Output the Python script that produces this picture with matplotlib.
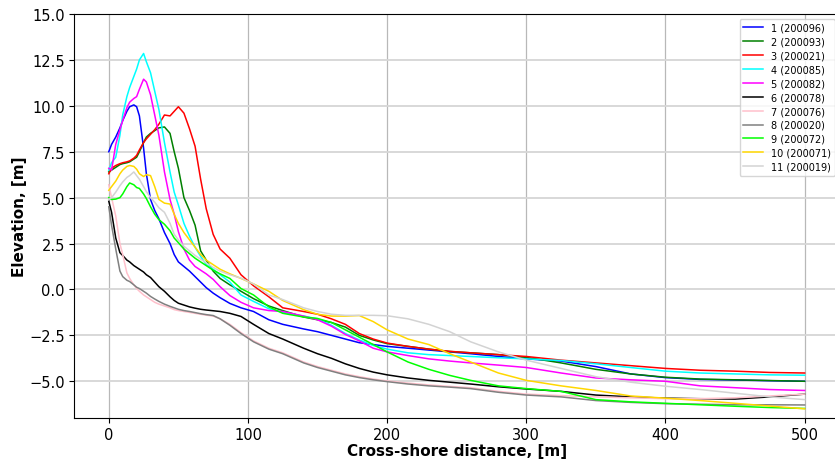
import numpy as np
import matplotlib
matplotlib.use("Agg")
from matplotlib import pyplot as plt

# distancia ao longo do perfil [m]
dist = [0, 2, 5, 8, 10, 13, 15, 18, 20, 22, 25, 27, 30, 33, 36, 40, 44, 47, 50, 54,
        58, 62, 66, 70, 75, 80, 87, 95, 104, 115, 125, 140, 150, 160, 170, 180, 190,
        200, 215, 230, 245, 260, 280, 300, 325, 350, 375, 400, 425, 450, 475, 500]

# perfis de elevacao [m]
p1 = [7.5, 7.9, 8.3, 8.8, 9.2, 9.7, 9.95, 10.05, 9.95, 9.45, 7.7, 6.3, 4.9, 4.3, 3.85, 3.1,
      2.5, 1.9, 1.5, 1.25, 1.0, 0.7, 0.4, 0.1, -0.2, -0.45, -0.76, -1.0, -1.2, -1.65, -1.9,
      -2.15, -2.3, -2.5, -2.7, -2.9, -3.0, -3.1, -3.2, -3.3, -3.4, -3.5, -3.65, -3.78, -3.9,
      -4.2, -4.6, -4.8, -4.9, -4.93, -4.97, -5.0]
p2 = [6.4, 6.5, 6.65, 6.8, 6.85, 6.9, 6.95, 7.1, 7.2, 7.5, 8.0, 8.3, 8.5, 8.65, 8.8, 8.85,
      8.5, 7.5, 6.6, 5.0, 4.3, 3.5, 2.1, 1.6, 1.0, 0.6, 0.25, -0.1, -0.5, -0.9, -1.15, -1.5,
      -1.65, -1.8, -2.05, -2.5, -2.75, -2.95, -3.1, -3.25, -3.38, -3.45, -3.55, -3.7, -4.0,
      -4.35, -4.6, -4.78, -4.88, -4.92, -4.96, -5.0]
p3 = [6.3, 6.6, 6.75, 6.85, 6.9, 6.95, 7.0, 7.15, 7.3, 7.6, 8.0, 8.2, 8.45, 8.7, 9.0, 9.5,
      9.45, 9.7, 9.95, 9.6, 8.75, 7.8, 6.0, 4.4, 3.0, 2.2, 1.7, 0.8, 0.2, -0.4, -1.0, -1.2,
      -1.35, -1.6, -1.9, -2.4, -2.7, -2.92, -3.1, -3.25, -3.37, -3.45, -3.55, -3.65, -3.85,
      -4.0, -4.15, -4.3, -4.4, -4.45, -4.52, -4.55]
p4 = [6.5, 6.9, 7.2, 8.4, 9.5, 10.5, 11.0, 11.6, 12.0, 12.5, 12.85, 12.4, 11.8, 10.8, 9.8,
      8.0, 6.4, 5.3, 4.6, 3.6, 2.9, 2.3, 1.8, 1.35, 1.1, 0.8, 0.4, -0.3, -0.65, -1.05, -1.25,
      -1.45, -1.6, -1.95, -2.4, -2.75, -3.05, -3.25, -3.45, -3.55, -3.6, -3.65, -3.72, -3.78,
      -3.87, -4.05, -4.25, -4.45, -4.55, -4.6, -4.65, -4.67]
p5 = [6.6, 6.5, 7.9, 8.7, 9.2, 9.9, 10.2, 10.4, 10.5, 10.9, 11.45, 11.3, 10.6, 9.5, 8.4, 6.4,
      4.9, 4.1, 3.15, 2.2, 1.6, 1.25, 1.05, 0.85, 0.55, 0.15, -0.33, -0.7, -1.0, -1.15, -1.2,
      -1.45, -1.65, -2.0, -2.45, -2.8, -3.2, -3.4, -3.6, -3.78, -3.9, -4.0, -4.12, -4.25,
      -4.55, -4.82, -4.92, -5.0, -5.25, -5.35, -5.45, -5.5]
p6 = [4.8, 4.2, 2.8, 2.0, 1.85, 1.6, 1.5, 1.3, 1.2, 1.1, 0.95, 0.8, 0.65, 0.4, 0.15, -0.1,
      -0.4, -0.6, -0.75, -0.85, -0.95, -1.02, -1.08, -1.12, -1.16, -1.2, -1.3, -1.47, -1.9,
      -2.4, -2.7, -3.2, -3.5, -3.75, -4.05, -4.3, -4.5, -4.65, -4.82, -4.95, -5.05, -5.15,
      -5.3, -5.42, -5.55, -5.75, -5.85, -5.92, -5.95, -5.97, -5.85, -5.7]
p7 = [5.7, 5.0, 4.0, 2.5, 1.9, 0.9, 0.6, 0.25, 0.05, -0.1, -0.3, -0.4, -0.55, -0.7, -0.8,
      -0.9, -1.0, -1.1, -1.15, -1.2, -1.25, -1.3, -1.35, -1.4, -1.45, -1.6, -1.9, -2.35, -2.8,
      -3.2, -3.45, -3.95, -4.2, -4.4, -4.6, -4.75, -4.88, -4.98, -5.1, -5.2, -5.28, -5.35,
      -5.55, -5.7, -5.78, -5.85, -5.9, -5.95, -5.95, -5.9, -5.8, -5.7]
p8 = [4.5, 3.5, 2.2, 1.0, 0.7, 0.5, 0.43, 0.25, 0.12, 0.05, -0.1, -0.2, -0.38, -0.52, -0.65,
      -0.8, -0.92, -1.0, -1.08, -1.15, -1.2, -1.26, -1.32, -1.37, -1.42, -1.6, -1.95, -2.4,
      -2.85, -3.25, -3.5, -4.0, -4.25, -4.45, -4.65, -4.8, -4.92, -5.02, -5.15, -5.25, -5.32,
      -5.4, -5.6, -5.75, -5.85, -6.05, -6.15, -6.22, -6.25, -6.28, -6.28, -6.29]
p9 = [5.0, 4.9, 4.92, 5.0, 5.2, 5.6, 5.8, 5.7, 5.55, 5.5, 5.2, 4.95, 4.5, 4.1, 3.8, 3.55,
      3.2, 2.8, 2.55, 2.2, 1.95, 1.7, 1.5, 1.3, 1.05, 0.85, 0.6, 0.05, -0.3, -0.95, -1.3,
      -1.5, -1.58, -1.8, -2.2, -2.6, -3.0, -3.4, -3.95, -4.35, -4.68, -4.95, -5.25, -5.4,
      -5.55, -6.0, -6.12, -6.2, -6.28, -6.36, -6.43, -6.48]
p10 = [5.4, 5.6, 5.9, 6.3, 6.5, 6.7, 6.75, 6.7, 6.55, 6.3, 6.15, 6.25, 6.2, 5.6, 4.9, 4.7,
       4.65, 4.1, 3.6, 3.1, 2.7, 2.3, 1.9, 1.6, 1.35, 1.1, 0.85, 0.6, 0.3, -0.1, -0.6, -1.1,
       -1.35, -1.45, -1.45, -1.42, -1.75, -2.2, -2.7, -3.0, -3.5, -3.95, -4.55, -4.95, -5.25,
       -5.5, -5.8, -5.92, -6.05, -6.2, -6.35, -6.5]
p11 = [4.9, 5.0, 5.3, 5.65, 5.85, 6.1, 6.2, 6.4, 6.2, 6.0, 5.6, 5.33, 5.0, 4.75, 4.45, 4.2,
       3.6, 3.0, 2.7, 2.35, 2.1, 1.85, 1.65, 1.45, 1.2, 1.0, 0.8, 0.62, 0.3, -0.3, -0.55,
       -1.0, -1.2, -1.35, -1.41, -1.41, -1.41, -1.43, -1.6, -1.9, -2.3, -2.85, -3.4, -3.85,
       -4.3, -4.75, -5.05, -5.27, -5.45, -5.65, -5.85, -6.0]

labels = ['1 (200096)', '2 (200093)', '3 (200021)', '4 (200085)', '5 (200082)',
          '6 (200078)', '7 (200076)', '8 (200020)', '9 (200072)', '10 (200071)',
          '11 (200019)']
cores = ['blue', 'green', 'red', 'cyan', 'magenta', 'black', 'pink', 'gray',
         'lime', 'gold', 'lightgray']
perfis = [p1, p2, p3, p4, p5, p6, p7, p8, p9, p10, p11]

fig = plt.figure(figsize=(8.35, 4.6), dpi=100)
ax = fig.add_axes([74/835, 41/460, 765.4/835, 404/460])

for perfil, cor, lab in zip(perfis, cores, labels):
    ax.plot(dist, perfil, color=cor, lw=1.1, label=lab)

ax.set_xlim(-25, 525)
ax.set_ylim(-7, 15)
ax.set_yticks(np.arange(-5, 15.1, 2.5))
ax.set_xticks([0, 100, 200, 300, 400, 500])
ax.grid(axis='x', color='#b8b8b8', lw=0.9)
ax.grid(axis='y', color='#d6d6d6', lw=1.3)
ax.set_axisbelow(True)
ax.tick_params(labelsize=10.5, pad=3)
ax.set_xlabel('Cross-shore distance, [m]', fontsize=11, fontweight='bold', labelpad=1)
ax.set_ylabel('Elevation, [m]', fontsize=11, fontweight='bold', labelpad=2)
ax.legend(loc='upper right', fontsize=7, labelspacing=0.4)

fig.savefig('out.png', dpi=100)
